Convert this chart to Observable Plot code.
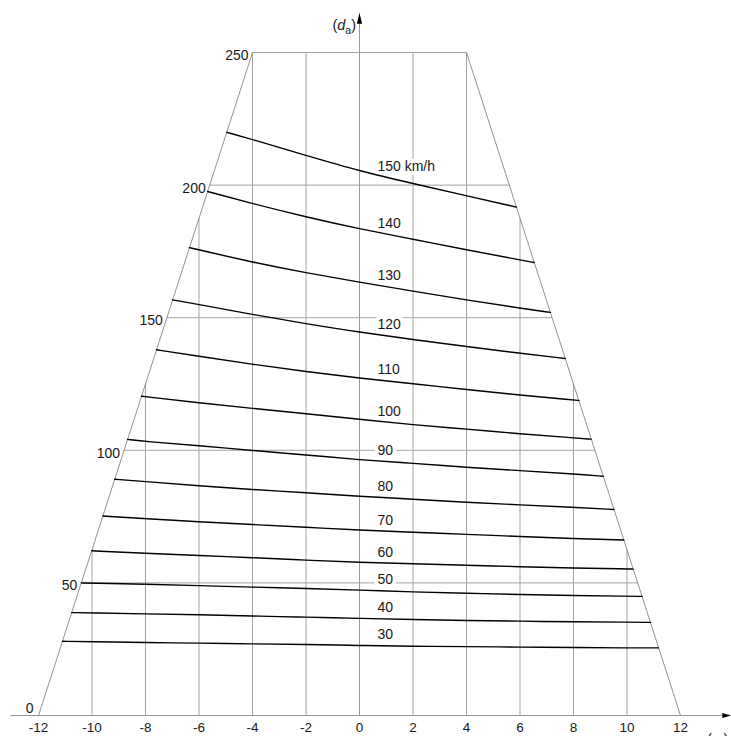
<!DOCTYPE html>
<html><head><meta charset="utf-8">
<script src="https://cdn.jsdelivr.net/npm/d3@7"></script>
<script src="https://cdn.jsdelivr.net/npm/@observablehq/plot@0.6"></script>
<style>html,body{margin:0;padding:0;background:#fff;overflow:hidden}#chart svg{display:block}</style>
</head><body><div id="chart"></div>
<script>
// ---- data ----
const speeds = [30, 40, 50, 60, 70, 80, 90, 100, 110, 120, 130, 140, 150];
const curveLabels = ["30", "40", "50", "60", "70", "80", "90", "100", "110", "120", "130", "140", "150 km/h"];
const v30 = [[-11.1,28.0],[-10,27.8],[-8,27.5],[-6,27.3],[-4,27.0],[-2,26.8],[0,26.4],[2,26.1],[4,26.0],[6,25.8],[8,25.6],[10,25.5],[11.18,25.5]];
const v40 = [[-10.76,38.8],[-10,38.7],[-8,38.3],[-6,38.0],[-4,37.5],[-2,37.1],[0,36.6],[2,36.2],[4,35.8],[6,35.6],[8,35.3],[10,35.2],[10.88,35.1]];
const v50 = [[-10.4,50.0],[-10,49.9],[-8,49.5],[-6,49.0],[-4,48.4],[-2,47.9],[0,47.3],[2,46.6],[4,46.1],[6,45.6],[8,45.2],[10,45.0],[10.56,44.9]];
const v60 = [[-10.01,62.1],[-8,61.2],[-6,60.3],[-4,59.5],[-2,58.6],[0,57.7],[2,57.2],[4,56.7],[6,56.1],[8,55.6],[10,55.3],[10.23,55.2]];
const v70 = [[-9.59,75.2],[-8,74.2],[-6,73.0],[-4,72.0],[-2,71.0],[0,69.9],[2,69.1],[4,68.3],[6,67.5],[8,66.7],[9.88,66.2]];
const v80 = [[-9.15,89.1],[-8,88.2],[-6,86.6],[-4,85.2],[-2,84.0],[0,82.6],[2,81.6],[4,80.4],[6,79.4],[8,78.5],[9.51,77.7]];
const v90 = [[-8.67,104.1],[-8,103.3],[-6,101.8],[-4,99.9],[-2,98.3],[0,96.4],[2,95.1],[4,93.6],[6,92.3],[8,91.1],[9.11,90.2]];
const v100 = [[-8.15,120.4],[-8,120.2],[-6,117.9],[-4,115.8],[-2,113.8],[0,111.7],[2,109.6],[4,108.0],[6,106.2],[8,104.7],[8.66,104.2]];
const v110 = [[-7.59,137.9],[-6,135.5],[-4,132.4],[-2,129.7],[0,127.2],[2,125.1],[4,122.9],[6,120.8],[8,119.0],[8.2,118.8]];
const v120 = [[-6.99,156.7],[-6,155.0],[-4,151.2],[-2,147.7],[0,144.5],[2,141.8],[4,139.1],[6,136.6],[7.69,134.6]];
const v130 = [[-6.36,176.4],[-6,175.6],[-4,170.9],[-2,166.9],[0,163.4],[2,160.0],[4,156.7],[6,153.6],[7.14,152.0]];
const v140 = [[-5.68,197.6],[-4,193.0],[-2,188.0],[0,183.5],[2,179.6],[4,175.6],[6,171.8],[6.53,170.8]];
const v150 = [[-4.96,219.9],[-4,217.2],[-2,211.2],[0,205.3],[2,200.6],[4,196.0],[5.87,191.7]];
const curvePoints = [v30, v40, v50, v60, v70, v80, v90, v100, v110, v120, v130, v140, v150];

const xTicks = [-12, -10, -8, -6, -4, -2, 0, 2, 4, 6, 8, 10, 12];
const xTickLabels = ["-12", "-10", "-8", "-6", "-4", "-2", "0", "2", "4", "6", "8", "10", "12"];
const yTicks = [0, 50, 100, 150, 200, 250];
const yTickLabels = ["0", "50", "100", "150", "200", "250"];
const gridX = [-10, -8, -6, -4, -2, 2, 4, 6, 8, 10];
const gridY = [50, 100, 150, 200, 250];
const trapBottom = [-12, 12];
const trapTop = [-4, 4];
const yMax = 250;
const axisXExtent = [-13.05, 13.9];
const axisYTop = 265;

// ---- geometry helpers derived from the trapezoid ----
const leftX = y => trapBottom[0] + (trapTop[0] - trapBottom[0]) * y / yMax;
const rightX = y => trapBottom[1] + (trapTop[1] - trapBottom[1]) * y / yMax;
const topY = x => x < 0
  ? Math.min(yMax, (x - trapBottom[0]) / (trapTop[0] - trapBottom[0]) * yMax)
  : Math.min(yMax, (x - trapBottom[1]) / (trapTop[1] - trapBottom[1]) * yMax);
const interp = (pts, x) => {
  for (let i = 1; i < pts.length; i++) {
    if (pts[i][0] >= x) {
      const [x0, y0] = pts[i - 1], [x1, y1] = pts[i];
      return y0 + (y1 - y0) * (x - x0) / (x1 - x0);
    }
  }
  return pts[pts.length - 1][1];
};

const rows = speeds.flatMap((s, i) => curvePoints[i].map(([x, y]) => ({speed: s, x, y})));
const labelRows = speeds.map((s, i) => ({label: curveLabels[i], y: interp(curvePoints[i], 1)}));

const upArrow = {draw(ctx) { ctx.moveTo(0, 0); ctx.lineTo(-2.6, 11); ctx.lineTo(2.6, 11); ctx.closePath(); }};
const rightArrow = {draw(ctx) { ctx.moveTo(0, 0); ctx.lineTo(-9, -2.6); ctx.lineTo(-9, 2.6); ctx.closePath(); }};

const font = "Liberation Sans, Arial, Helvetica, sans-serif";
const gridColor = "#a3a3a3";
const textColor = "#1a1a1a";

const plot = Plot.plot({
  width: 731,
  height: 736,
  marginLeft: 38,
  marginRight: 51,
  marginTop: 52,
  marginBottom: 21,
  x: {domain: [-12, 12], axis: null},
  y: {domain: [0, 250], axis: null},
  style: {fontFamily: font, fontSize: "14px", background: "#fff", color: textColor},
  marks: [
    // vertical grid lines clipped to the trapezoid
    Plot.link(gridX, {x1: d => d, x2: d => d, y1: 0, y2: d => topY(d), stroke: gridColor, strokeWidth: 1}),
    // horizontal grid lines clipped to the trapezoid
    Plot.link(gridY, {x1: d => leftX(d), x2: d => rightX(d), y1: d => d, y2: d => d, stroke: gridColor, strokeWidth: 1}),
    // trapezoid sides
    Plot.link([0, 1], {x1: i => trapBottom[i], x2: i => trapTop[i], y1: 0, y2: yMax, stroke: "#777", strokeWidth: 0.8}),
    // axes
    Plot.link([0], {x1: axisXExtent[0], x2: axisXExtent[1] - 0.3, y1: 0, y2: 0, stroke: "#999", strokeWidth: 1}),
    Plot.link([0], {x1: 0, x2: 0, y1: 0, y2: axisYTop - 3, stroke: "#999", strokeWidth: 1}),
    Plot.dot([0], {x: 0, y: axisYTop, symbol: upArrow, r: 3, fill: "#000", stroke: "none"}),
    Plot.dot([0], {x: axisXExtent[1], y: 0, symbol: rightArrow, r: 3, fill: "#000", stroke: "none"}),
    // tick labels
    Plot.text(xTicks, {x: d => d, y: 0, text: (d, i) => xTickLabels[i], dy: 12, fontSize: 13.5, fill: textColor}),
    Plot.text(yTicks.slice(1), {x: d => leftX(d), y: d => d, text: (d, i) => yTickLabels[i + 1], textAnchor: "end", dx: -4, dy: 3, fontSize: 14, fill: textColor}),
    Plot.text(yTicks.slice(0, 1), {x: d => leftX(d), y: d => d, text: (d, i) => yTickLabels[i], textAnchor: "end", dx: -5, dy: -7, fontSize: 14, fill: textColor}),
    // curve labels with white halo
    Plot.text(labelRows, {x: 0.67, y: "y", text: "label", textAnchor: "start", dy: -11, fontSize: 14, fill: textColor, stroke: "white", strokeWidth: 8}),
    // speed curves
    Plot.line(rows, {x: "x", y: "y", z: "speed", curve: "basis", stroke: "#000", strokeWidth: 1.4})
  ]
});

// axis titles with italic letters and subscripts, placed through the plot's scales
const sx = plot.scale("x"), sy = plot.scale("y");
const svg = d3.select(plot);
const t1 = svg.append("text")
  .attr("x", sx.apply(0) - 3).attr("y", sy.apply(yMax) - 22)
  .attr("text-anchor", "end").attr("font-family", font).attr("font-size", 14.5).attr("fill", textColor);
t1.append("tspan").text("(");
t1.append("tspan").attr("font-style", "italic").text("d");
t1.append("tspan").attr("font-size", 10.5).attr("dy", 4).text("a");
t1.append("tspan").attr("dy", -4).text(")");

const t2 = svg.append("text")
  .attr("x", sx.apply(12) + 27).attr("y", sy.apply(0) + 29)
  .attr("text-anchor", "start").attr("font-family", font).attr("font-size", 14.5).attr("fill", textColor);
t2.append("tspan").text("(");
t2.append("tspan").attr("font-style", "italic").text("p");
t2.append("tspan").attr("font-size", 10.5).attr("dy", 4).text("r");
t2.append("tspan").attr("dy", -4).text(")");

document.getElementById("chart").appendChild(plot);
</script>
</body></html>
